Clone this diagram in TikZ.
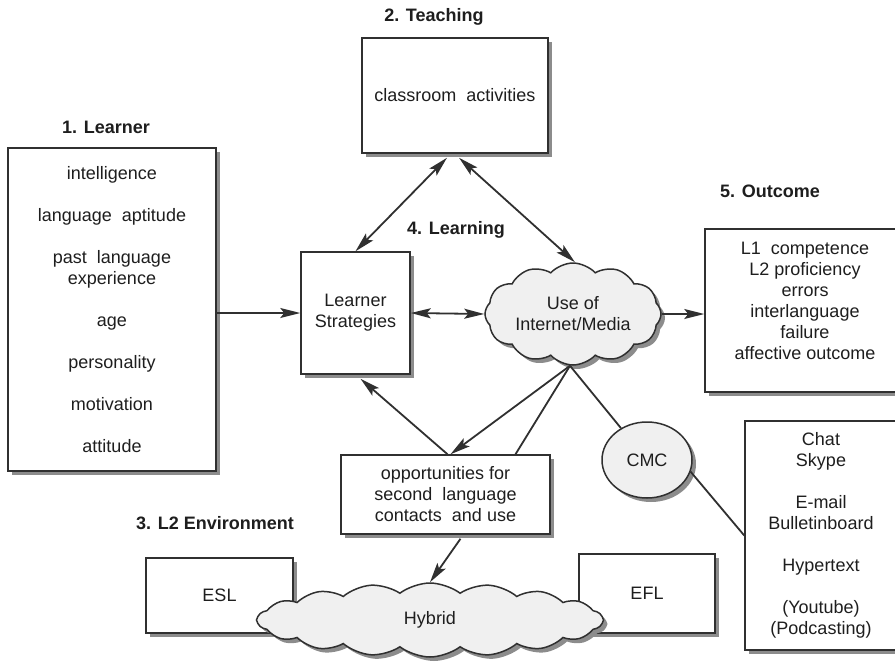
\documentclass[tikz,border=0pt]{standalone}
\usepackage{fontspec}
\setmainfont{Liberation Sans}
\usetikzlibrary{shapes.geometric,shapes.symbols,shadows,arrows.meta}
\definecolor{ink}{HTML}{303030}
\definecolor{txt}{HTML}{1E1E1E}
\definecolor{cloudfill}{HTML}{F0F0F0}
\begin{document}
\begin{tikzpicture}[x=1pt,y=-1pt,
  every node/.style={font=\fontsize{18}{21}\selectfont, text=txt},
  shad/.style={general shadow={fill=black!45, shadow xshift=4pt, shadow yshift=-4pt}},
  box/.style={draw=ink, line width=1.5pt, fill=white, shad, inner sep=0pt, align=center},
  lbl/.style={font=\bfseries\fontsize{18}{21}\selectfont},
  conn/.style={draw=ink, line width=1.8pt},
  arr/.style={conn, -{Stealth[length=20pt,width=10pt,inset=4pt]}},
  darr/.style={conn, {Stealth[length=20pt,width=10pt,inset=4pt]}-{Stealth[length=20pt,width=10pt,inset=4pt]}},
  puffy/.style={cloud, cloud ignores aspect, draw=ink, line width=1.5pt, fill=cloudfill, shad, inner sep=0pt, align=center}
]
\useasboundingbox (0,0) rectangle (895,662);
\fill[white] (0,0) rectangle (895,662);

% labels
\node[lbl] (lLearner) at (106,127) {1. Learner};
\node[lbl] (lTeach) at (434,17) {2. Teaching};
\node[lbl] (lLearning) at (456,230) {4. Learning};
\node[lbl] (lOut) at (770,191) {5. Outcome};
\node[lbl] (lEnv) at (215,523) {3. L2 Environment};

% boxes
\node[box, minimum width=208pt, minimum height=323pt] (learner) at (112,309.5)
  {intelligence\\[21pt] language\ \ aptitude\\[21pt] past\ \ language\\ experience\\[21pt] age\\[21pt] personality\\[21pt] motivation\\[21pt] attitude};
\node[box, minimum width=186pt, minimum height=115pt] (teach) at (455,95.5) {classroom\ \ activities};
\node[box, minimum width=109pt, minimum height=122pt] (strat) at (355.5,313) {Learner\\ Strategies};
\begin{scope}
\clip (0,0) rectangle (895,662);
\node[box, minimum width=200pt, minimum height=163pt] (outcome) at (805,310.5) {};
\node[box, minimum width=152pt, minimum height=229pt] (media) at (821,535.5) {};
\end{scope}
\node[align=center] (outtext) at (805,301) {L1\ \ competence\\ L2 proficiency\\ errors\\ interlanguage\\ failure\\ affective outcome};
\node[align=center] (mediatext) at (821,535.5)
  {Chat\\ Skype\\[21pt] E-mail\\ Bulletinboard\\[21pt] Hypertext\\[21pt] (Youtube)\\ (Podcasting)};
\node[box, minimum width=209pt, minimum height=79pt] (opp) at (445.5,494.5)
  {opportunities for\\ second\ \ language\\ contacts\ \ and use};
\node[box, minimum width=147pt, minimum height=75pt] (esl) at (219.5,595.5) {ESL};
\node[box, minimum width=136pt, minimum height=79pt] (efl) at (647,593.5) {EFL};

% clouds and ellipse
\node[puffy, cloud puffs=12, cloud puff arc=95, minimum width=176pt, minimum height=102pt] (net) at (573,314) {Use of\\ Internet/Media};
\node[puffy, cloud puffs=18, cloud puff arc=75, minimum width=345pt, minimum height=74pt] (hybrid) at (430,620) {Hybrid};
\node[ellipse, draw=ink, line width=1.5pt, fill=cloudfill, shad, minimum width=90pt, minimum height=76pt, inner sep=0pt] (cmc) at (647,460) {CMC};

% connectors
\draw[arr] (learner.east |- strat.west) -- (strat.west);
\draw[darr] (strat.east) -- (net.west);
\draw[arr] (net.east) -- (outcome.west |- net.east);
\draw[darr] ([xshift=-8pt,yshift=-4pt]teach.south) -- (strat.north);
\draw[darr] ([xshift=4pt,yshift=-4pt]teach.south) -- ([xshift=2pt]net.north);
\draw[arr] ([xshift=-3pt]net.south) -- ([xshift=5pt]opp.north);
\draw[conn] ([xshift=-3pt]net.south) -- ([xshift=70pt]opp.north);
\draw[conn] ([xshift=-3pt]net.south) -- (cmc);
\draw[conn] (cmc.-15) -- (media.west);
\draw[arr] ([xshift=2pt]opp.north) -- ([xshift=5pt,yshift=-4pt]strat.south);
\draw[arr] ([xshift=15pt,yshift=-4pt]opp.south) -- (hybrid.north);
\end{tikzpicture}
\end{document}
